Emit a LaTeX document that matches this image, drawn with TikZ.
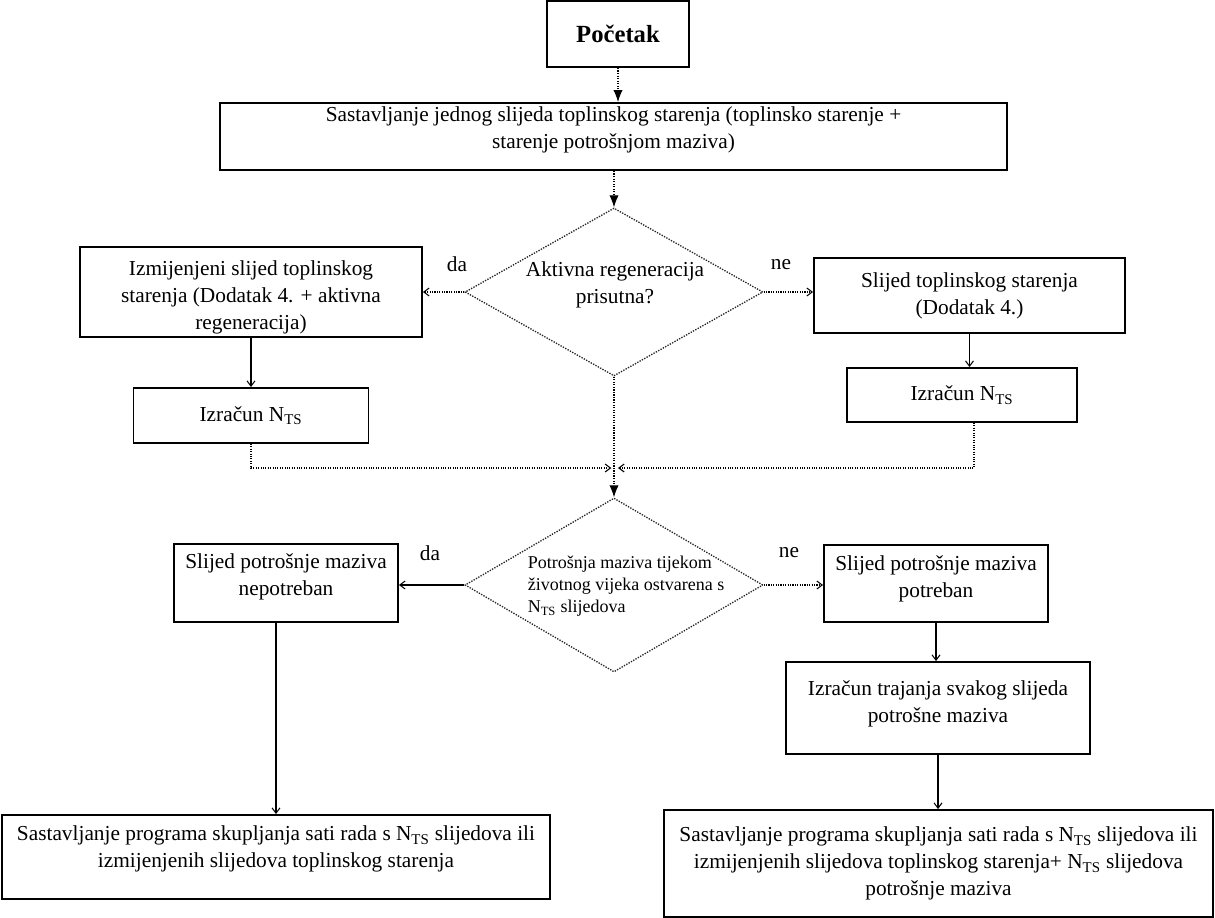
\documentclass[tikz,border=0pt]{standalone}
\usepackage{fontspec}
\setmainfont{Liberation Serif}
\usetikzlibrary{shapes.geometric,arrows.meta,calc}
\begin{document}
\begin{tikzpicture}[x=0.75pt,y=-0.75pt,
  sz/.style 2 args={minimum width=#1*0.75pt,minimum height=#2*0.75pt},
  box/.style={draw=black,line width=1.4pt,rectangle,inner sep=0pt,align=center,font=\fontsize{16}{20.25}\selectfont},
  dia/.style={draw=black!85,densely dotted,line width=1pt,diamond,inner sep=0pt},
  txt/.style={inner sep=0pt,align=center,font=\fontsize{16}{20.25}\selectfont},
  small/.style={inner sep=0pt,align=left,font=\fontsize{13.5}{16.5}\selectfont},
  lbl/.style={inner sep=0pt,font=\fontsize{16}{18}\selectfont},
  conn/.style={line width=0.8pt,-{Straight Barb[length=4pt,width=6pt]}},
  dconn/.style={conn,densely dotted},
  fconn/.style={line width=0.9pt,densely dotted,-{Latex[length=9pt,width=7pt]}},
]
\useasboundingbox (0,0) rectangle (1215,918);

% boxes
\node[box,sz={142}{66},font=\bfseries\fontsize{18.5}{22}\selectfont] (start) at (618,34) {Početak};
\node[box,sz={787}{67}] (seq) at (613.5,136.5) {};
\node[txt] (seqt) at (613.5,130) {Sastavljanje jednog slijeda toplinskog starenja (toplinsko starenje +\\starenje potrošnjom maziva)};

\node[dia,sz={298}{168}] (d1) at (614,292) {};
\node[txt] (d1t) at (615,285) {Aktivna regeneracija\\prisutna?};

\node[box,sz={342}{90}] (lbox1) at (251,292) {};
\node[txt] (lbox1t) at (251,297) {Izmijenjeni slijed toplinskog\\starenja (Dodatak 4. + aktivna\\regeneracija)};

\node[box,sz={311}{75}] (rbox1) at (969.5,295.5) {Slijed toplinskog starenja\\(Dodatak 4.)};

\node[box,sz={235}{55}] (lcalc) at (251,415.5) {Izračun N\textsubscript{TS}};
\node[box,sz={230}{54}] (rcalc) at (962,395) {Izračun N\textsubscript{TS}};

\coordinate (m) at (614,468);

\node[dia,sz={298}{174}] (d2) at (614,585) {};
\node[small] (d2t) at (626,586) {Potrošnja maziva tijekom\\životnog vijeka ostvarena s\\N\textsubscript{TS} slijedova};

\node[box,sz={224}{78}] (lbox2) at (286,583) {};
\node[txt] (lbox2t) at (286,577) {Slijed potrošnje maziva\\nepotreban};

\node[box,sz={224}{77}] (rbox2) at (936,583.5) {};
\node[txt] (rbox2t) at (936,579) {Slijed potrošnje maziva\\potreban};

\node[box,sz={304}{92}] (traj) at (938,708) {};
\node[txt] (trajt) at (938,704) {Izračun trajanja svakog slijeda\\potrošne maziva};

\node[box,sz={548}{84}] (lfinal) at (276,857) {};
\node[txt] (lfinalt) at (276,849) {Sastavljanje programa skupljanja sati rada s N\textsubscript{TS} slijedova ili\\izmijenjenih slijedova toplinskog starenja};

\node[box,sz={549}{107}] (rfinal) at (938.5,863.5) {Sastavljanje programa skupljanja sati rada s N\textsubscript{TS} slijedova ili\\izmijenjenih slijedova toplinskog starenja+ N\textsubscript{TS} slijedova\\potrošnje maziva};

% labels
\node[lbl] (da1) at (457,264) {da};
\node[lbl] (ne1) at (781,265) {ne};
\node[lbl] (da2) at (430,553) {da};
\node[lbl] (ne2) at (789,553) {ne};

% connectors
\draw[fconn] (start.south) -- (start.south |- seq.north);
\draw[fconn] (seq.south -| d1.north) -- (d1.north);
\draw[dconn] (d1.west) -- (d1.west -| lbox1.east);
\draw[dconn] (d1.east) -- (d1.east -| rbox1.west);
\draw[conn] (lbox1.south) -- (lbox1.south |- lcalc.north);
\draw[conn] (rbox1.south) -- (rbox1.south |- rcalc.north);
\draw[fconn] (d1.south) -- (d2.north);
\draw[dconn] (lcalc.south) |- ([xshift=-2]m);
\draw[dconn] ($(rcalc.south)+(12,0)$) |- ([xshift=3]m);
\draw[conn] (d2.west) -- (d2.west -| lbox2.east);
\draw[dconn] (d2.east) -- (d2.east -| rbox2.west);
\draw[conn] (lfinal.north |- lbox2.south) -- (lfinal.north);
\draw[conn] (rbox2.south) -- (rbox2.south |- traj.north);
\draw[conn] (traj.south) -- (traj.south |- rfinal.north);
\end{tikzpicture}
\end{document}
